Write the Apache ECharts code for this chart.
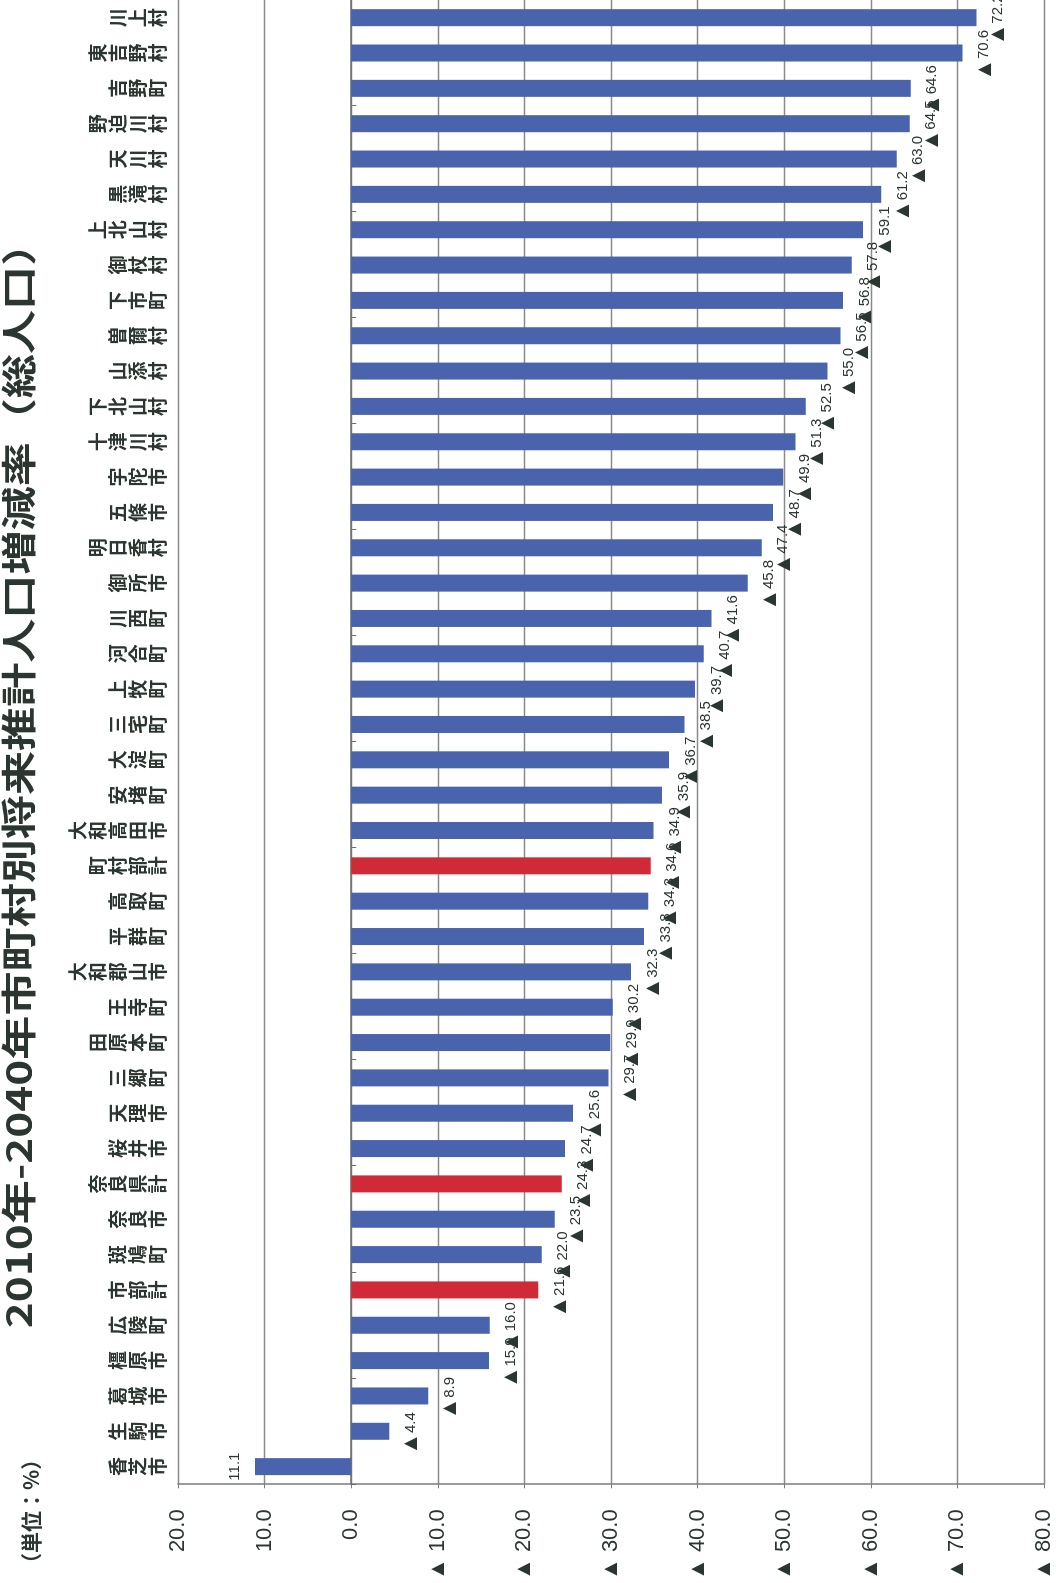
<!DOCTYPE html>
<html><head><meta charset="utf-8">
<script src="https://cdn.jsdelivr.net/npm/echarts@6/dist/echarts.min.js"></script>
<style>
html,body{margin:0;padding:0;background:#fff;width:1056px;height:1583px;overflow:hidden;}
#chart{position:absolute;left:0;top:0;width:1583px;height:1056px;transform-origin:0 0;transform:translate(0,1583px) rotate(-90deg);background:#fff;}
</style></head><body><div id="chart"></div>
<script>
// Categories ordered along the category axis (香芝市 first)
const categories = ['香芝市','生駒市','葛城市','橿原市','広陵町','市部計','斑鳩町','奈良市','奈良県計','桜井市',
  '天理市','三郷町','田原本町','王寺町','大和郡山市','平群町','高取町','町村部計','大和高田市','安堵町',
  '大淀町','三宅町','上牧町','河合町','川西町','御所市','明日香村','五條市','宇陀市','十津川村',
  '下北山村','山添村','曽爾村','下市町','御杖村','上北山村','黒滝村','天川村','野迫川村','吉野町',
  '東吉野村','川上村'];
// 増減率 (%) ; negative = decrease (shown with ▲)
const values = [11.1,-4.4,-8.9,-15.9,-16.0,-21.6,-22.0,-23.5,-24.3,-24.7,
  -25.6,-29.7,-29.9,-30.2,-32.3,-33.8,-34.3,-34.6,-34.9,-35.9,
  -36.7,-38.5,-39.7,-40.7,-41.6,-45.8,-47.4,-48.7,-49.9,-51.3,
  -52.5,-55.0,-56.5,-56.8,-57.8,-59.1,-61.2,-63.0,-64.5,-64.6,
  -70.6,-72.2];
const totalRows = ['市部計','奈良県計','町村部計'];
const tickValues = [20,10,0,-10,-20,-30,-40,-50,-60,-70,-80];
const titleText = '2010年-2040年市町村別将来推計人口増減率（総人口）';
const unitText = '（単位：%）';

const BLUE = '#4a63ad', RED = '#d02a38', TXT = '#2b3630', GRID = '#8a8a8a';
const fmt = v => v < 0 ? '▲ ' + (-v).toFixed(1) : v.toFixed(1);
const fmtRich = v => v < 0 ? '{t|▲} ' + (-v).toFixed(1) : v.toFixed(1);

const chart = echarts.init(document.getElementById('chart'), null, {width:1583, height:1056, renderer:'canvas'});
chart.setOption({
  backgroundColor:'#fff',
  animation:false,
  grid:{left:91, right:0, top:178, bottom:12, containLabel:false},
  graphic:[
    {type:'text', x:808, y:19, scaleX:1.26, scaleY:1,
     style:{text:titleText, fontSize:35, fontWeight:'bold', fontFamily:'Noto Sans CJK JP', fill:TXT, align:'center', verticalAlign:'middle'}},
    {type:'text', x:9, y:31,
     style:{text:unitText, fontSize:21, fontWeight:'bold', fontFamily:'Noto Sans CJK JP', fill:TXT, align:'left', verticalAlign:'middle'}}
  ],
  xAxis:[
    {type:'category', data:categories, position:'top',
     axisLine:{show:false, onZero:false}, axisTick:{show:false},
     axisLabel:{interval:0, margin:10, fontSize:19, lineHeight:20, fontWeight:'bold',
       fontFamily:'Noto Sans CJK JP', color:TXT, formatter:n => n.split('').join('\n')}},
    {type:'category', data:categories, position:'bottom',
     axisLine:{show:true, onZero:true, lineStyle:{color:'#6f6f6f', width:1.5}},
     axisTick:{show:true, length:5, lineStyle:{color:'#6f6f6f'}},
     axisLabel:{show:false}}
  ],
  yAxis:{type:'value', min:tickValues[tickValues.length-1], max:tickValues[0], interval:10,
    axisLine:{show:true, lineStyle:{color:'#7a7a7a', width:1.5}},
    axisTick:{show:true, length:4, lineStyle:{color:'#7a7a7a'}},
    splitLine:{show:true, lineStyle:{color:GRID, width:1.3}},
    axisLabel:{margin:25, fontSize:22, fontFamily:'Liberation Sans, DejaVu Sans', color:TXT, formatter:v => fmt(v)}},
  series:[{
    type:'bar', xAxisIndex:0, barWidth:17,
    data:values.map((v,i) => ({value:v, itemStyle:{color: totalRows.includes(categories[i]) ? RED : BLUE}})),
    label:{show:true, position:'outside', distance:13, fontSize:15, fontFamily:'Liberation Sans, DejaVu Sans',
      color:TXT, formatter:p => fmtRich(p.value),
      rich:{t:{fontSize:17, color:TXT, fontFamily:'DejaVu Sans'}}}
  }]
});
</script></body></html>
